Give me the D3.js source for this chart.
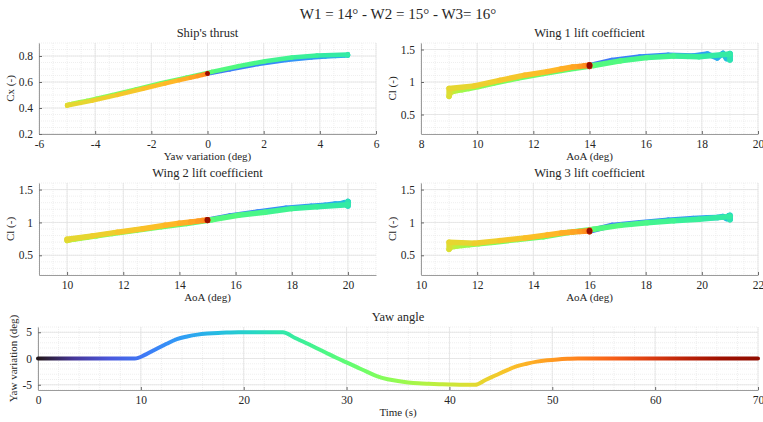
<!DOCTYPE html>
<html>
<head>
<meta charset="utf-8">
<script src="https://cdn.jsdelivr.net/npm/d3@7"></script>
<style>
  body { margin: 0; background: #fff; }
  text { font-family: "Liberation Serif", "Times New Roman", serif; fill: #262626; }
</style>
</head>
<body>
<svg id="fig" width="763" height="422"></svg>
<script>
// sample times of the run and the imposed yaw variation
const tSec = [0, 9.4, 10.5, 11.5, 12.5, 13.5, 14.5, 15.5, 16.5, 17.5, 18.5, 19.5, 21, 22.5, 23.8,
	25, 26, 27, 28, 29, 30, 31, 32, 33, 34, 35, 36, 37, 38, 39, 40, 41, 42.5,
	43.5, 44.5, 45.5, 46.5, 47.5, 48.5, 49.5, 50.5, 51.5, 52.5, 55, 60, 65, 70];
const yawDeg = [0, 0, 0.8, 1.8, 2.8, 3.7, 4.2, 4.55, 4.75, 4.88, 4.95, 5, 5, 5, 5,
	3.9, 3, 2.05, 1.1, 0.15, -0.75, -1.65, -2.55, -3.4, -3.95, -4.3, -4.55, -4.72, -4.82, -4.9, -4.95, -5, -5,
	-4.1, -3.2, -2.3, -1.5, -1, -0.6, -0.35, -0.18, -0.07, 0, 0, 0, 0, 0];

// wing setting angles
const wingDeg = [14, 15, 16];

// coefficients at the same sample times
const cxThrust = [0.665, 0.665, 0.697, 0.738, 0.770, 0.789, 0.796, 0.800, 0.802, 0.804, 0.805, 0.806, 0.812, 0.804, 0.812,
	0.804, 0.788, 0.760, 0.722, 0.678, 0.634, 0.590, 0.543, 0.499, 0.471, 0.455, 0.444, 0.436, 0.432, 0.428, 0.426, 0.424, 0.418,
	0.457, 0.501, 0.548, 0.589, 0.614, 0.634, 0.646, 0.655, 0.661, 0.665, 0.665, 0.665, 0.665, 0.665];
const clWing1 = [1.25, 1.25, 1.33, 1.385, 1.41, 1.40, 1.43, 1.37, 1.44, 1.36, 1.42, 1.35, 1.44, 1.34, 1.43,
	1.39, 1.40, 1.375, 1.325, 1.255, 1.195, 1.13, 1.06, 0.985, 0.93, 0.90, 0.88, 0.87, 0.86, 0.85, 0.845, 0.78, 0.90,
	0.94, 1.025, 1.105, 1.16, 1.20, 1.23, 1.24, 1.25, 1.255, 1.255, 1.265, 1.24, 1.26, 1.25];
const clWing2 = [1.035, 1.035, 1.10, 1.16, 1.215, 1.245, 1.262, 1.28, 1.285, 1.30, 1.27, 1.32, 1.25, 1.31, 1.27,
	1.24, 1.21, 1.155, 1.11, 1.04, 0.985, 0.935, 0.88, 0.83, 0.795, 0.773, 0.758, 0.748, 0.742, 0.737, 0.733, 0.725, 0.745,
	0.795, 0.852, 0.905, 0.957, 0.987, 1.007, 1.02, 1.028, 1.033, 1.035, 1.04, 1.03, 1.04, 1.035];
const clWing3 = [0.87, 0.87, 0.955, 0.995, 1.035, 1.06, 1.07, 1.075, 1.09, 1.06, 1.10, 1.05, 1.11, 1.04, 1.09,
	1.05, 1.025, 0.995, 0.955, 0.895, 0.848, 0.783, 0.74, 0.70, 0.675, 0.66, 0.65, 0.64, 0.635, 0.63, 0.625, 0.59, 0.70,
	0.683, 0.723, 0.763, 0.808, 0.838, 0.855, 0.862, 0.867, 0.87, 0.87, 0.88, 0.86, 0.875, 0.87];

const tEnd = 70;
const colorAt = (t) => d3.interpolateTurbo(t / tEnd);

const svg = d3.select("#fig");

svg.append("text")
	.attr("x", 398).attr("y", 19)
	.attr("text-anchor", "middle")
	.style("font-size", "15px")
	.text("W1 = 14° - W2 = 15° - W3= 16°");

// one subplot frame: grids, axis lines, inward ticks, labels
function makeAxes(box, opt) {
	let x = d3.scaleLinear().domain(opt.xDomain).range([box.left, box.right]);
	let y = d3.scaleLinear().domain(opt.yDomain).range([box.bottom, box.top]);
	let g = svg.append("g");

	let xMinor = d3.range(opt.xDomain[0], opt.xDomain[1] + 1e-9, opt.xMinor);
	let yMinor = d3.range(opt.yDomain[0], opt.yDomain[1] + 1e-9, opt.yMinor);
	let xMajor = opt.xTicks;

	g.append("g").selectAll("line").data(xMinor).join("line")
		.attr("x1", (d) => x(d)).attr("x2", (d) => x(d))
		.attr("y1", box.top).attr("y2", box.bottom)
		.attr("stroke", "#e4e4e4").attr("stroke-width", 0.6).attr("stroke-dasharray", "1,1");
	g.append("g").selectAll("line").data(yMinor).join("line")
		.attr("x1", box.left).attr("x2", box.right)
		.attr("y1", (d) => y(d)).attr("y2", (d) => y(d))
		.attr("stroke", "#e4e4e4").attr("stroke-width", 0.6).attr("stroke-dasharray", "1,1");
	g.append("g").selectAll("line").data(xMajor).join("line")
		.attr("x1", (d) => x(d)).attr("x2", (d) => x(d))
		.attr("y1", box.top).attr("y2", box.bottom)
		.attr("stroke", "#e2e2e2").attr("stroke-width", 0.8);
	g.append("g").selectAll("line").data(opt.yTicks).join("line")
		.attr("x1", box.left).attr("x2", box.right)
		.attr("y1", (d) => y(d)).attr("y2", (d) => y(d))
		.attr("stroke", "#e2e2e2").attr("stroke-width", 0.8);

	let xAxis = g.append("g")
		.attr("transform", "translate(0," + box.bottom + ")")
		.call(d3.axisBottom(x).tickValues(xMajor).tickSizeInner(-3).tickSizeOuter(0).tickPadding(6).tickFormat((d) => String(d)));
	let yAxis = g.append("g")
		.attr("transform", "translate(" + box.left + ",0)")
		.call(d3.axisLeft(y).tickValues(opt.yTicks).tickSizeInner(-3).tickSizeOuter(0).tickPadding(6).tickFormat((d) => String(d)));
	[xAxis, yAxis].forEach((a) => {
		a.select(".domain").attr("stroke", "#9c9c9c");
		a.selectAll(".tick line").attr("stroke", "#6a6a6a");
		a.selectAll(".tick text").attr("fill", "#262626").style("font-size", "11.5px")
			.style("font-family", "'Liberation Serif', serif");
	});

	let cx = (box.left + box.right) / 2;
	g.append("text").attr("x", cx).attr("y", box.top - 6)
		.attr("text-anchor", "middle").style("font-size", "12.5px").text(opt.title);
	g.append("text").attr("x", cx).attr("y", box.bottom + 26)
		.attr("text-anchor", "middle").style("font-size", "11px").text(opt.xLabel);
	g.append("text")
		.attr("transform", "translate(" + opt.yLabelX + "," + (box.top + box.bottom) / 2 + ") rotate(-90)")
		.attr("text-anchor", "middle").style("font-size", "11px").text(opt.yLabel);

	return { x, y, g };
}

// time-coloured trace: each step drawn in order so later samples sit on top
function drawTrace(ax, xs, ys, width) {
	let steps = d3.pairs(d3.range(xs.length));
	ax.g.append("g").selectAll("path").data(steps).join("path")
		.attr("d", ([a, b]) => "M" + ax.x(xs[a]) + "," + ax.y(ys[a]) + "L" + ax.x(xs[b]) + "," + ax.y(ys[b]))
		.attr("stroke", ([a, b]) => colorAt((tSec[a] + tSec[b]) / 2))
		.attr("stroke-width", width)
		.attr("stroke-linecap", "round")
		.attr("fill", "none");
}

let thrustAx = makeAxes({ left: 39, right: 376, top: 43, bottom: 134 }, {
	xDomain: [-6, 6], xTicks: d3.range(-6, 6.1, 2), xMinor: 0.5,
	yDomain: [0.2, 0.9], yTicks: [0.2, 0.4, 0.6, 0.8], yMinor: 0.05,
	title: "Ship's thrust", xLabel: "Yaw variation (deg)", yLabel: "Cx (-)", yLabelX: 14
});
drawTrace(thrustAx, yawDeg, cxThrust, 4.5);

let wingBoxes = [
	{ left: 421, right: 758, top: 43, bottom: 134 },
	{ left: 39, right: 376, top: 183, bottom: 275 },
	{ left: 421, right: 758, top: 183, bottom: 275 }
];
let wingLabelX = [396, 14, 396];
let wingCl = [clWing1, clWing2, clWing3];

wingDeg.forEach((w, k) => {
	let lo = w - 6, hi = w + 6;
	let ax = makeAxes(wingBoxes[k], {
		xDomain: [lo, hi], xTicks: d3.range(Math.ceil(lo / 2) * 2, hi + 0.1, 2), xMinor: 0.5,
		yDomain: [0.2, 1.6], yTicks: [0.5, 1, 1.5], yMinor: 0.1,
		title: "Wing " + (k + 1) + " lift coefficient", xLabel: "AoA (deg)", yLabel: "Cl (-)", yLabelX: wingLabelX[k]
	});
	drawTrace(ax, yawDeg.map((v) => w + v), wingCl[k], 5.5);
});

// yaw history over the whole run
let yawAx = makeAxes({ left: 38, right: 758, top: 327, bottom: 390 }, {
	xDomain: [0, 70], xTicks: d3.range(0, 70.1, 10), xMinor: 2,
	yDomain: [-6, 6], yTicks: [-5, 0, 5], yMinor: 1,
	title: "Yaw angle", xLabel: "Time (s)", yLabel: "Yaw variation (deg)", yLabelX: 17
});

let grad = svg.append("defs").append("linearGradient")
	.attr("id", "time-grad")
	.attr("gradientUnits", "userSpaceOnUse")
	.attr("x1", yawAx.x(0)).attr("x2", yawAx.x(tEnd))
	.attr("y1", 0).attr("y2", 0);
grad.selectAll("stop").data(d3.range(0, 1.0001, 0.05)).join("stop")
	.attr("offset", (d) => d)
	.attr("stop-color", (d) => d3.interpolateTurbo(d));

yawAx.g.append("path")
	.datum(d3.zip(tSec, yawDeg))
	.attr("d", d3.line().x((d) => yawAx.x(d[0])).y((d) => yawAx.y(d[1])).curve(d3.curveMonotoneX))
	.attr("fill", "none")
	.attr("stroke", "url(#time-grad)")
	.attr("stroke-width", 4)
	.attr("stroke-linecap", "round");
</script>
</body>
</html>
